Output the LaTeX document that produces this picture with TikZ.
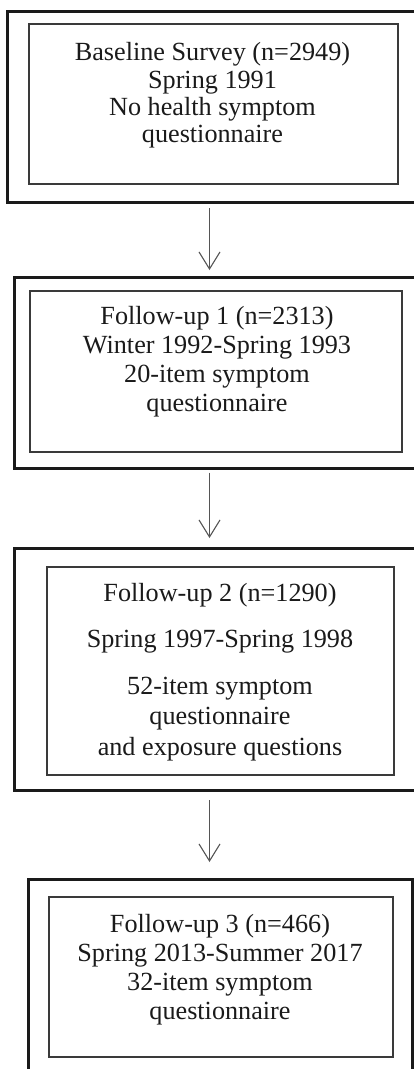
\documentclass[tikz,border=0pt]{standalone}
\usepackage{fontspec}
\setmainfont{Liberation Serif}
\usetikzlibrary{arrows.meta}
\definecolor{ink}{HTML}{1A1A1A}
\definecolor{iline}{HTML}{3A3A3A}
\definecolor{aline}{HTML}{555555}
\begin{document}
\begin{tikzpicture}[x=1pt,y=-1pt,
  outerbox/.style={draw=ink,line width=3pt,inner sep=0pt},
  innerbox/.style={draw=iline,line width=1.3pt,inner sep=0pt},
  txt/.style={text=ink,align=center,inner sep=0pt},
  arr/.style={draw=aline,line width=1.1pt,-{Straight Barb[length=17pt,width=21pt]}}]
\useasboundingbox (0,0) rectangle (414,1069);
\clip (0,0) rectangle (414,1069);
% box 1
\node[outerbox,minimum width=433pt,minimum height=191pt] (o1) at (223.5,106.5) {};
\node[innerbox,minimum width=369pt,minimum height=160pt] (i1) at (213.5,104) {};
\node[txt,font=\fontsize{26.2pt}{27.3pt}\selectfont] (t1) at (212.5,95.5)
  {Baseline Survey (n=2949)\\Spring 1991\\No health symptom\\questionnaire};
% box 2
\node[outerbox,minimum width=426pt,minimum height=191pt] (o2) at (227,372.5) {};
\node[innerbox,minimum width=372pt,minimum height=161pt] (i2) at (216,371.5) {};
\node[txt,font=\fontsize{26.2pt}{29pt}\selectfont] (t2) at (217,362)
  {Follow-up 1 (n=2313)\\Winter 1992-Spring 1993\\20-item symptom\\questionnaire};
% box 3
\node[outerbox,minimum width=426pt,minimum height=242pt] (o3) at (227,669) {};
\node[innerbox,minimum width=347pt,minimum height=208pt] (i3) at (220.5,671) {};
\node[txt,font=\fontsize{26.2pt}{30.5pt}\selectfont] (t3) at (220,672)
  {Follow-up 2 (n=1290)\\[16pt]Spring 1997-Spring 1998\\[16pt]52-item symptom\\questionnaire\\and exposure questions};
% box 4
\node[outerbox,minimum width=384pt,minimum height=201pt] (o4) at (220,979.5) {};
\node[innerbox,minimum width=344pt,minimum height=160pt] (i4) at (221,977) {};
\node[txt,font=\fontsize{26.2pt}{29pt}\selectfont] (t4) at (220,969.5)
  {Follow-up 3 (n=466)\\Spring 2013-Summer 2017\\32-item symptom\\questionnaire};
% arrows
\coordinate (ax) at (209.5,0);
\draw[arr,shorten <=4.5pt,shorten >=5.5pt] (o1.south -| ax) -- (o2.north -| ax);
\draw[arr,shorten <=3pt,shorten >=8.5pt] (o2.south -| ax) -- (o3.north -| ax);
\draw[arr,shorten <=8.5pt,shorten >=15.5pt] (o3.south -| ax) -- (o4.north -| ax);
\end{tikzpicture}
\end{document}
